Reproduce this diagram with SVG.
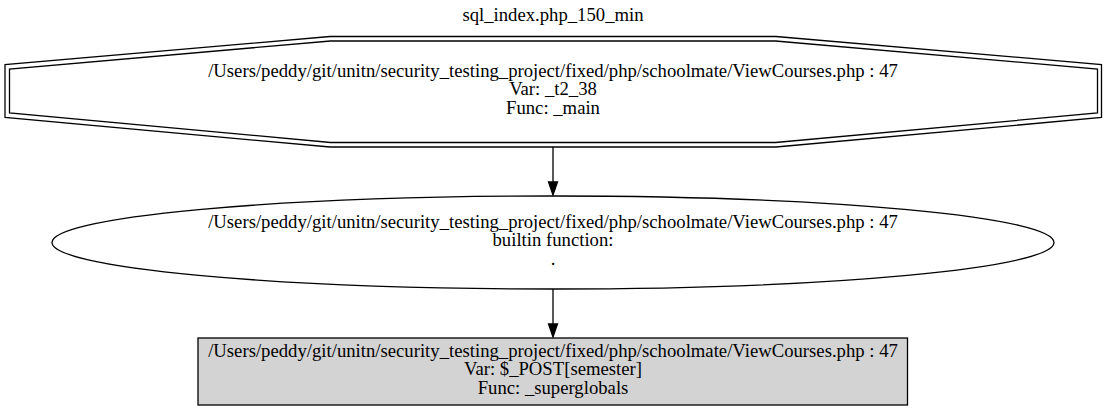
<svg xmlns="http://www.w3.org/2000/svg" width="1107" height="410" viewBox="0 0 1107 410">
<style>
text{font-family:"Liberation Serif","Times New Roman",serif;font-size:18.7px;fill:#000;text-anchor:middle}
.shape{fill:none;stroke:#000;stroke-width:1.3}
.edge{stroke:#000;stroke-width:1.3;fill:none}
.head{fill:#000;stroke:#000;stroke-width:1.3}
</style>
<rect width="1107" height="410" fill="#fff"/>
<text x="553" y="21">sql_index.php_150_min</text>
<g id="node1">
<polygon class="shape" points="1101.5,64.5 1101.5,117.5 776,147 330,147 5,117.5 5,64.5 330,36.5 776,36.5"/>
<polygon class="shape" points="1097.5,69 1097.5,113 775.5,142.5 330.5,142.5 9.5,113 9.5,69 330.5,41 775.5,41"/>
<text x="553" y="76.5">/Users/peddy/git/unitn/security_testing_project/fixed/php/schoolmate/ViewCourses.php : 47</text>
<text x="553" y="95">Var: _t2_38</text>
<text x="553" y="113.5">Func: _main</text>
</g>
<g id="node2">
<ellipse class="shape" cx="553" cy="242.5" rx="501" ry="46.5"/>
<text x="553" y="227.5">/Users/peddy/git/unitn/security_testing_project/fixed/php/schoolmate/ViewCourses.php : 47</text>
<text x="553" y="246">builtin function:</text>
<text x="553" y="264.5">.</text>
</g>
<g id="node3">
<rect x="198" y="338" width="709.5" height="67" fill="#d3d3d3" stroke="#000" stroke-width="1.3"/>
<text x="553" y="356.5">/Users/peddy/git/unitn/security_testing_project/fixed/php/schoolmate/ViewCourses.php : 47</text>
<text x="553" y="375">Var: $_POST[semester]</text>
<text x="553" y="393.5">Func: _superglobals</text>
</g>
<g id="edges">
<line class="edge" x1="553" y1="147" x2="553" y2="182"/>
<polygon class="head" points="548.5,182 557.5,182 553,195"/>
<line class="edge" x1="553" y1="289" x2="553" y2="324"/>
<polygon class="head" points="548.5,324 557.5,324 553,337"/>
</g>
</svg>
